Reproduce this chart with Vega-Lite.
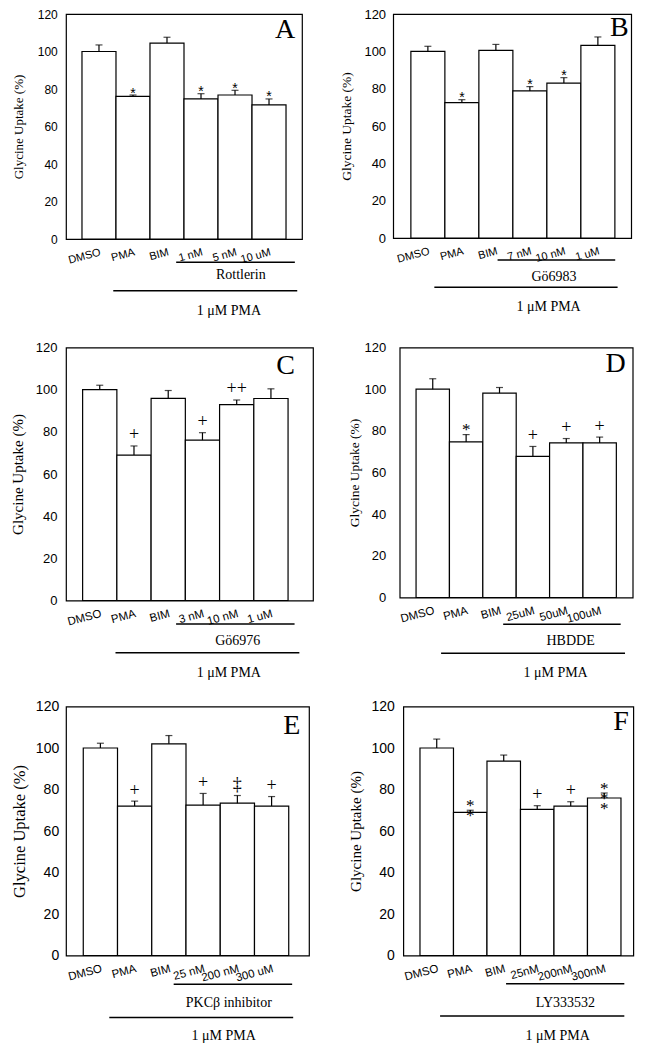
{
  "$schema": "https://vega.github.io/schema/vega-lite/v6.json",
  "background": "white",
  "padding": {"left": 9, "top": 7, "right": 5, "bottom": 5},
  "datasets": {
    "A": [
      {"cond": "DMSO", "value": 100, "upper": 103.5, "sig": ""},
      {"cond": "PMA", "value": 76.1, "upper": 76.8, "sig": "*"},
      {"cond": "BIM", "value": 104.5, "upper": 107.6, "sig": ""},
      {"cond": "1 nM", "value": 74.7, "upper": 77.5, "sig": "*"},
      {"cond": "5 nM", "value": 76.8, "upper": 79.3, "sig": "*"},
      {"cond": "10 uM", "value": 71.5, "upper": 74.7, "sig": "*"}
    ],
    "B": [
      {"cond": "DMSO", "value": 100, "upper": 102.7, "sig": ""},
      {"cond": "PMA", "value": 72.5, "upper": 74.1, "sig": "*"},
      {"cond": "BIM", "value": 100.5, "upper": 103.7, "sig": ""},
      {"cond": "7 nM", "value": 78.8, "upper": 81.1, "sig": "*"},
      {"cond": "10 nM", "value": 83.0, "upper": 85.9, "sig": "*"},
      {"cond": "1 uM", "value": 103.2, "upper": 107.7, "sig": ""}
    ],
    "C": [
      {"cond": "DMSO", "value": 100, "upper": 102.1, "sig": ""},
      {"cond": "PMA", "value": 69.0, "upper": 73.3, "sig": "+"},
      {"cond": "BIM", "value": 95.9, "upper": 99.6, "sig": ""},
      {"cond": "3 nM", "value": 76.1, "upper": 79.6, "sig": "+"},
      {"cond": "10 nM", "value": 92.9, "upper": 95.1, "sig": "++"},
      {"cond": "1 uM", "value": 95.8, "upper": 100.4, "sig": ""}
    ],
    "D": [
      {"cond": "DMSO", "value": 100, "upper": 105.0, "sig": ""},
      {"cond": "PMA", "value": 74.7, "upper": 78.2, "sig": "*"},
      {"cond": "BIM", "value": 98.1, "upper": 100.8, "sig": ""},
      {"cond": "25uM", "value": 67.7, "upper": 72.5, "sig": "+"},
      {"cond": "50uM", "value": 74.2, "upper": 76.3, "sig": "+"},
      {"cond": "100uM", "value": 74.2, "upper": 77.0, "sig": "+"}
    ],
    "E": [
      {"cond": "DMSO", "value": 100, "upper": 102.3, "sig": ""},
      {"cond": "PMA", "value": 72.0, "upper": 74.4, "sig": "+"},
      {"cond": "BIM", "value": 102.0, "upper": 106.0, "sig": ""},
      {"cond": "25 nM", "value": 72.5, "upper": 78.1, "sig": "+"},
      {"cond": "200 nM", "value": 73.4, "upper": 77.1, "sig": "‡"},
      {"cond": "300 uM", "value": 72.0, "upper": 76.6, "sig": "+"}
    ],
    "F": [
      {"cond": "DMSO", "value": 100, "upper": 104.3, "sig": ""},
      {"cond": "PMA", "value": 69.0, "upper": 70.0, "sig": "*\n*"},
      {"cond": "BIM", "value": 93.7, "upper": 96.6, "sig": ""},
      {"cond": "25nM", "value": 70.4, "upper": 72.2, "sig": "+"},
      {"cond": "200nM", "value": 72.0, "upper": 74.1, "sig": "+"},
      {"cond": "300nM", "value": 75.9, "upper": 78.3, "sig": "*\n*\n*"}
    ]
  },
  "config": {
    "view": {"stroke": "black", "strokeWidth": 1.2},
    "axis": {"labelColor": "black", "titleColor": "black", "ticks": false, "domain": false, "grid": false, "labelFont": "Liberation Sans", "titleFont": "Liberation Serif", "titleFontWeight": "normal"},
    "text": {"color": "black"}
  },
  "vconcat": [
    {
      "hconcat": [
        {
          "width": 236, "height": 225,
          "data": {"name": "A"},
          "encoding": {
            "x": {"field": "cond", "type": "nominal", "scale": {"domain": ["DMSO", "PMA", "BIM", "1 nM", "5 nM", "10 uM"], "paddingInner": 0, "paddingOuter": 0.47, "align": 0.5}, "axis": {"title": null, "labelAngle": -15, "labelFontSize": 11, "labelPadding": 7}},
            "y": {"field": "value", "type": "quantitative", "scale": {"domain": [0, 120], "nice": false, "zero": false}, "axis": {"title": "Glycine Uptake (%)", "values": [0, 20, 40, 60, 80, 100, 120], "labelFontSize": 12, "titleFontSize": 13, "labelPadding": 8.7, "titlePadding": 11.6}}
          },
          "layer": [
            {"mark": {"type": "bar", "fill": "white", "stroke": "black", "strokeWidth": 1.2}},
            {"mark": {"type": "rule", "color": "black", "strokeWidth": 1.2}, "encoding": {"y2": {"field": "upper"}}},
            {"mark": {"type": "tick", "color": "black", "thickness": 1.2, "size": 7}, "encoding": {"y": {"field": "upper", "type": "quantitative"}}},
            {"mark": {"type": "text", "font": "Liberation Sans", "fontSize": 14, "baseline": "bottom", "dy": 5.5}, "encoding": {"y": {"field": "upper", "type": "quantitative"}, "text": {"field": "sig"}}},
            {"transform": [{"filter": {"field": "cond", "equal": "DMSO"}}], "mark": {"type": "text", "font": "Liberation Serif", "fontSize": 28, "baseline": "middle", "align": "center"}, "encoding": {"x": {"datum": "10 uM", "bandPosition": 0.97}, "y": {"datum": 111.6}, "text": {"value": "A"}}},
            {"transform": [{"filter": {"field": "cond", "equal": "DMSO"}}], "mark": {"type": "rule", "color": "black", "strokeWidth": 1.5}, "encoding": {"x": {"datum": "1 nM", "bandPosition": -0.23}, "x2": {"datum": "10 uM", "bandPosition": 1.26}, "y": {"datum": -12.4}}},
            {"transform": [{"filter": {"field": "cond", "equal": "DMSO"}}], "mark": {"type": "rule", "color": "black", "strokeWidth": 1.5}, "encoding": {"x": {"datum": "PMA", "bandPosition": -0.08}, "x2": {"datum": "10 uM", "bandPosition": 1.33}, "y": {"datum": -27.6}}},
            {"transform": [{"filter": {"field": "cond", "equal": "DMSO"}}], "mark": {"type": "text", "font": "Liberation Serif", "fontSize": 14, "baseline": "middle", "align": "center"}, "encoding": {"x": {"datum": "5 nM", "bandPosition": 0.67}, "y": {"datum": -19.2}, "text": {"value": "Rottlerin"}}},
            {"transform": [{"filter": {"field": "cond", "equal": "DMSO"}}], "mark": {"type": "text", "font": "Liberation Serif", "fontSize": 14, "baseline": "middle", "align": "center"}, "encoding": {"x": {"datum": "5 nM", "bandPosition": 0.32}, "y": {"datum": -38.2}, "text": {"value": "1 μM PMA"}}}
          ]
        },
        {
          "width": 238, "height": 224,
          "data": {"name": "B"},
          "encoding": {
            "x": {"field": "cond", "type": "nominal", "scale": {"domain": ["DMSO", "PMA", "BIM", "7 nM", "10 nM", "1 uM"], "paddingInner": 0, "paddingOuter": 0.5, "align": 0.52}, "axis": {"title": null, "labelAngle": -15, "labelFontSize": 11, "labelPadding": 7}},
            "y": {"field": "value", "type": "quantitative", "scale": {"domain": [0, 120], "nice": false, "zero": false}, "axis": {"title": "Glycine Uptake (%)", "values": [0, 20, 40, 60, 80, 100, 120], "labelFontSize": 13, "titleFontSize": 13.5, "labelPadding": 7.6, "titlePadding": 10}}
          },
          "layer": [
            {"mark": {"type": "bar", "fill": "white", "stroke": "black", "strokeWidth": 1.2}},
            {"mark": {"type": "rule", "color": "black", "strokeWidth": 1.2}, "encoding": {"y2": {"field": "upper"}}},
            {"mark": {"type": "tick", "color": "black", "thickness": 1.2, "size": 7}, "encoding": {"y": {"field": "upper", "type": "quantitative"}}},
            {"mark": {"type": "text", "font": "Liberation Sans", "fontSize": 14, "baseline": "bottom", "dy": 5.5}, "encoding": {"y": {"field": "upper", "type": "quantitative"}, "text": {"field": "sig"}}},
            {"transform": [{"filter": {"field": "cond", "equal": "DMSO"}}], "mark": {"type": "text", "font": "Liberation Serif", "fontSize": 28, "baseline": "middle", "align": "center"}, "encoding": {"x": {"datum": "1 uM", "bandPosition": 1.13}, "y": {"datum": 112.6}, "text": {"value": "B"}}},
            {"transform": [{"filter": {"field": "cond", "equal": "DMSO"}}], "mark": {"type": "rule", "color": "black", "strokeWidth": 1.5}, "encoding": {"x": {"datum": "7 nM", "bandPosition": -0.45}, "x2": {"datum": "1 uM", "bandPosition": 1.01}, "y": {"datum": -11.8}}},
            {"transform": [{"filter": {"field": "cond", "equal": "DMSO"}}], "mark": {"type": "rule", "color": "black", "strokeWidth": 1.5}, "encoding": {"x": {"datum": "PMA", "bandPosition": -0.31}, "x2": {"datum": "1 uM", "bandPosition": 1.08}, "y": {"datum": -26.4}}},
            {"transform": [{"filter": {"field": "cond", "equal": "DMSO"}}], "mark": {"type": "text", "font": "Liberation Serif", "fontSize": 14, "baseline": "middle", "align": "center"}, "encoding": {"x": {"datum": "10 nM", "bandPosition": 0.21}, "y": {"datum": -20.7}, "text": {"value": "Gö6983"}}},
            {"transform": [{"filter": {"field": "cond", "equal": "DMSO"}}], "mark": {"type": "text", "font": "Liberation Serif", "fontSize": 14, "baseline": "middle", "align": "center"}, "encoding": {"x": {"datum": "10 nM", "bandPosition": 0.05}, "y": {"datum": -36.8}, "text": {"value": "1 μM PMA"}}}
          ]
        }
      ],
      "spacing": 36.2
    },
    {
      "vconcat": [
        {
          "hconcat": [
            {
              "width": 247, "height": 253,
              "data": {"name": "C"},
              "encoding": {
                "x": {"field": "cond", "type": "nominal", "scale": {"domain": ["DMSO", "PMA", "BIM", "3 nM", "10 nM", "1 uM"], "paddingInner": 0, "paddingOuter": 0.607, "align": 0.4}, "axis": {"title": null, "labelAngle": -15, "labelFontSize": 11.5, "labelPadding": 7}},
                "y": {"field": "value", "type": "quantitative", "scale": {"domain": [0, 120], "nice": false, "zero": false}, "axis": {"title": "Glycine Uptake (%)", "values": [0, 20, 40, 60, 80, 100, 120], "labelFontSize": 13, "titleFontSize": 15, "labelPadding": 9, "titlePadding": 10}}
              },
              "layer": [
                {"mark": {"type": "bar", "fill": "white", "stroke": "black", "strokeWidth": 1.2}},
                {"mark": {"type": "rule", "color": "black", "strokeWidth": 1.2}, "encoding": {"y2": {"field": "upper"}}},
                {"mark": {"type": "tick", "color": "black", "thickness": 1.2, "size": 7}, "encoding": {"y": {"field": "upper", "type": "quantitative"}}},
                {"transform": [{"filter": {"field": "sig", "oneOf": ["+", "++", "‡"]}}], "mark": {"type": "text", "font": "Liberation Serif", "fontSize": 18, "baseline": "middle", "dy": -10.5}, "encoding": {"y": {"field": "upper", "type": "quantitative"}, "text": {"field": "sig"}}},
                {"transform": [{"filter": {"field": "cond", "equal": "DMSO"}}], "mark": {"type": "text", "font": "Liberation Serif", "fontSize": 28, "baseline": "middle", "align": "center"}, "encoding": {"x": {"datum": "1 uM", "bandPosition": 0.93}, "y": {"datum": 111.3}, "text": {"value": "C"}}},
                {"transform": [{"filter": {"field": "cond", "equal": "DMSO"}}], "mark": {"type": "rule", "color": "black", "strokeWidth": 1.5}, "encoding": {"x": {"datum": "3 nM", "bandPosition": -0.27}, "x2": {"datum": "1 uM", "bandPosition": 1.19}, "y": {"datum": -11.1}}},
                {"transform": [{"filter": {"field": "cond", "equal": "DMSO"}}], "mark": {"type": "rule", "color": "black", "strokeWidth": 1.5}, "encoding": {"x": {"datum": "PMA", "bandPosition": -0.04}, "x2": {"datum": "1 uM", "bandPosition": 1.33}, "y": {"datum": -24.8}}},
                {"transform": [{"filter": {"field": "cond", "equal": "DMSO"}}], "mark": {"type": "text", "font": "Liberation Serif", "fontSize": 14, "baseline": "middle", "align": "center"}, "encoding": {"x": {"datum": "10 nM", "bandPosition": 0.53}, "y": {"datum": -19.3}, "text": {"value": "Gö6976"}}},
                {"transform": [{"filter": {"field": "cond", "equal": "DMSO"}}], "mark": {"type": "text", "font": "Liberation Serif", "fontSize": 14, "baseline": "middle", "align": "center"}, "encoding": {"x": {"datum": "10 nM", "bandPosition": 0.27}, "y": {"datum": -34.3}, "text": {"value": "1 μM PMA"}}}
              ]
            },
            {
              "width": 233, "height": 250,
              "data": {"name": "D"},
              "encoding": {
                "x": {"field": "cond", "type": "nominal", "scale": {"domain": ["DMSO", "PMA", "BIM", "25uM", "50uM", "100uM"], "paddingInner": 0, "paddingOuter": 0.49, "align": 0.5}, "axis": {"title": null, "labelAngle": -15, "labelFontSize": 11.5, "labelPadding": 7}},
                "y": {"field": "value", "type": "quantitative", "scale": {"domain": [0, 120], "nice": false, "zero": false}, "axis": {"title": "Glycine Uptake (%)", "values": [0, 20, 40, 60, 80, 100, 120], "labelFontSize": 13, "titleFontSize": 13.5, "labelPadding": 14, "titlePadding": 3}}
              },
              "layer": [
                {"mark": {"type": "bar", "fill": "white", "stroke": "black", "strokeWidth": 1.2}},
                {"mark": {"type": "rule", "color": "black", "strokeWidth": 1.2}, "encoding": {"y2": {"field": "upper"}}},
                {"mark": {"type": "tick", "color": "black", "thickness": 1.2, "size": 7}, "encoding": {"y": {"field": "upper", "type": "quantitative"}}},
                {"transform": [{"filter": {"field": "sig", "oneOf": ["+", "++", "‡"]}}], "mark": {"type": "text", "font": "Liberation Serif", "fontSize": 18, "baseline": "middle", "dy": -10.5}, "encoding": {"y": {"field": "upper", "type": "quantitative"}, "text": {"field": "sig"}}},
                {"transform": [{"filter": {"field": "sig", "oneOf": ["*", "*\n*", "*\n*\n*"]}}], "mark": {"type": "text", "font": "Liberation Serif", "fontSize": 17, "baseline": "bottom", "dy": 4.5, "lineBreak": "\n", "lineHeight": 10}, "encoding": {"y": {"field": "upper", "type": "quantitative"}, "text": {"field": "sig"}}},
                {"transform": [{"filter": {"field": "cond", "equal": "DMSO"}}], "mark": {"type": "text", "font": "Liberation Serif", "fontSize": 28, "baseline": "middle", "align": "center"}, "encoding": {"x": {"datum": "100uM", "bandPosition": 0.98}, "y": {"datum": 112.0}, "text": {"value": "D"}}},
                {"transform": [{"filter": {"field": "cond", "equal": "DMSO"}}], "mark": {"type": "rule", "color": "black", "strokeWidth": 1.5}, "encoding": {"x": {"datum": "25uM", "bandPosition": -0.39}, "x2": {"datum": "100uM", "bandPosition": 1.13}, "y": {"datum": -12.8}}},
                {"transform": [{"filter": {"field": "cond", "equal": "DMSO"}}], "mark": {"type": "rule", "color": "black", "strokeWidth": 1.5}, "encoding": {"x": {"datum": "PMA", "bandPosition": -0.25}, "x2": {"datum": "100uM", "bandPosition": 1.26}, "y": {"datum": -26.7}}},
                {"transform": [{"filter": {"field": "cond", "equal": "DMSO"}}], "mark": {"type": "text", "font": "Liberation Serif", "fontSize": 14, "baseline": "middle", "align": "center"}, "encoding": {"x": {"datum": "50uM", "bandPosition": 0.63}, "y": {"datum": -20.8}, "text": {"value": "HBDDE"}}},
                {"transform": [{"filter": {"field": "cond", "equal": "DMSO"}}], "mark": {"type": "text", "font": "Liberation Serif", "fontSize": 14, "baseline": "middle", "align": "center"}, "encoding": {"x": {"datum": "50uM", "bandPosition": 0.18}, "y": {"datum": -36.3}, "text": {"value": "1 μM PMA"}}}
              ]
            }
          ],
          "spacing": 31.7
        },
        {
          "hconcat": [
            {
              "width": 243, "height": 249,
              "data": {"name": "E"},
              "encoding": {
                "x": {"field": "cond", "type": "nominal", "scale": {"domain": ["DMSO", "PMA", "BIM", "25 nM", "200 nM", "300 uM"], "paddingInner": 0, "paddingOuter": 0.548, "align": 0.46}, "axis": {"title": null, "labelAngle": -15, "labelFontSize": 11.5, "labelPadding": 7}},
                "y": {"field": "value", "type": "quantitative", "scale": {"domain": [0, 120], "nice": false, "zero": false}, "axis": {"title": "Glycine Uptake (%)", "values": [0, 20, 40, 60, 80, 100, 120], "labelFontSize": 14, "titleFontSize": 16.5, "labelPadding": 7.3, "titlePadding": 8}}
              },
              "layer": [
                {"mark": {"type": "bar", "fill": "white", "stroke": "black", "strokeWidth": 1.2}},
                {"mark": {"type": "rule", "color": "black", "strokeWidth": 1.2}, "encoding": {"y2": {"field": "upper"}}},
                {"mark": {"type": "tick", "color": "black", "thickness": 1.2, "size": 7}, "encoding": {"y": {"field": "upper", "type": "quantitative"}}},
                {"transform": [{"filter": {"field": "sig", "oneOf": ["+", "++", "‡"]}}], "mark": {"type": "text", "font": "Liberation Serif", "fontSize": 18, "baseline": "middle", "dy": -10.5}, "encoding": {"y": {"field": "upper", "type": "quantitative"}, "text": {"field": "sig"}}},
                {"transform": [{"filter": {"field": "cond", "equal": "DMSO"}}], "mark": {"type": "text", "font": "Liberation Serif", "fontSize": 28, "baseline": "middle", "align": "center"}, "encoding": {"x": {"datum": "300 uM", "bandPosition": 1.09}, "y": {"datum": 110.7}, "text": {"value": "E"}}},
                {"transform": [{"filter": {"field": "cond", "equal": "DMSO"}}], "mark": {"type": "rule", "color": "black", "strokeWidth": 1.5}, "encoding": {"x": {"datum": "25 nM", "bandPosition": -0.36}, "x2": {"datum": "300 uM", "bandPosition": 1.10}, "y": {"datum": -13.8}}},
                {"transform": [{"filter": {"field": "cond", "equal": "DMSO"}}], "mark": {"type": "rule", "color": "black", "strokeWidth": 1.5}, "encoding": {"x": {"datum": "PMA", "bandPosition": -0.24}, "x2": {"datum": "300 uM", "bandPosition": 1.13}, "y": {"datum": -29.9}}},
                {"transform": [{"filter": {"field": "cond", "equal": "DMSO"}}], "mark": {"type": "text", "font": "Liberation Serif", "fontSize": 14, "baseline": "middle", "align": "center"}, "encoding": {"x": {"datum": "200 nM", "bandPosition": 0.25}, "y": {"datum": -23.0}, "text": {"value": "PKCβ inhibitor"}}},
                {"transform": [{"filter": {"field": "cond", "equal": "DMSO"}}], "mark": {"type": "text", "font": "Liberation Serif", "fontSize": 14, "baseline": "middle", "align": "center"}, "encoding": {"x": {"datum": "200 nM", "bandPosition": 0.1}, "y": {"datum": -39.0}, "text": {"value": "1 μM PMA"}}}
              ]
            },
            {
              "width": 230, "height": 249,
              "data": {"name": "F"},
              "encoding": {
                "x": {"field": "cond", "type": "nominal", "scale": {"domain": ["DMSO", "PMA", "BIM", "25nM", "200nM", "300nM"], "paddingInner": 0, "paddingOuter": 0.433, "align": 0.575}, "axis": {"title": null, "labelAngle": -15, "labelFontSize": 11.5, "labelPadding": 7}},
                "y": {"field": "value", "type": "quantitative", "scale": {"domain": [0, 120], "nice": false, "zero": false}, "axis": {"title": "Glycine Uptake (%)", "values": [0, 20, 40, 60, 80, 100, 120], "labelFontSize": 14, "titleFontSize": 15, "labelPadding": 9, "titlePadding": 7.7}}
              },
              "layer": [
                {"mark": {"type": "bar", "fill": "white", "stroke": "black", "strokeWidth": 1.2}},
                {"mark": {"type": "rule", "color": "black", "strokeWidth": 1.2}, "encoding": {"y2": {"field": "upper"}}},
                {"mark": {"type": "tick", "color": "black", "thickness": 1.2, "size": 7}, "encoding": {"y": {"field": "upper", "type": "quantitative"}}},
                {"transform": [{"filter": {"field": "sig", "oneOf": ["+", "++", "‡"]}}], "mark": {"type": "text", "font": "Liberation Serif", "fontSize": 18, "baseline": "middle", "dy": -10.5}, "encoding": {"y": {"field": "upper", "type": "quantitative"}, "text": {"field": "sig"}}},
                {"transform": [{"filter": {"field": "sig", "oneOf": ["*", "*\n*", "*\n*\n*"]}}], "mark": {"type": "text", "font": "Liberation Serif", "fontSize": 17, "baseline": "bottom", "dy": 4.5, "lineBreak": "\n", "lineHeight": 10}, "encoding": {"y": {"field": "upper", "type": "quantitative"}, "text": {"field": "sig"}}},
                {"transform": [{"filter": {"field": "cond", "equal": "DMSO"}}], "mark": {"type": "text", "font": "Liberation Serif", "fontSize": 28, "baseline": "middle", "align": "center"}, "encoding": {"x": {"datum": "300nM", "bandPosition": 1.0}, "y": {"datum": 112.3}, "text": {"value": "F"}}},
                {"transform": [{"filter": {"field": "cond", "equal": "DMSO"}}], "mark": {"type": "rule", "color": "black", "strokeWidth": 1.5}, "encoding": {"x": {"datum": "25nM", "bandPosition": -0.43}, "x2": {"datum": "300nM", "bandPosition": 1.10}, "y": {"datum": -13.6}}},
                {"transform": [{"filter": {"field": "cond", "equal": "DMSO"}}], "mark": {"type": "rule", "color": "black", "strokeWidth": 1.5}, "encoding": {"x": {"datum": "PMA", "bandPosition": -0.4}, "x2": {"datum": "300nM", "bandPosition": 1.10}, "y": {"datum": -29.2}}},
                {"transform": [{"filter": {"field": "cond", "equal": "DMSO"}}], "mark": {"type": "text", "font": "Liberation Serif", "fontSize": 14, "baseline": "middle", "align": "center"}, "encoding": {"x": {"datum": "200nM", "bandPosition": 0.34}, "y": {"datum": -22.8}, "text": {"value": "LY333532"}}},
                {"transform": [{"filter": {"field": "cond", "equal": "DMSO"}}], "mark": {"type": "text", "font": "Liberation Serif", "fontSize": 14, "baseline": "middle", "align": "center"}, "encoding": {"x": {"datum": "200nM", "bandPosition": 0.11}, "y": {"datum": -38.8}, "text": {"value": "1 μM PMA"}}}
              ]
            }
          ],
          "spacing": 37.3
        }
      ],
      "spacing": 17
    }
  ],
  "spacing": 21.5
}
